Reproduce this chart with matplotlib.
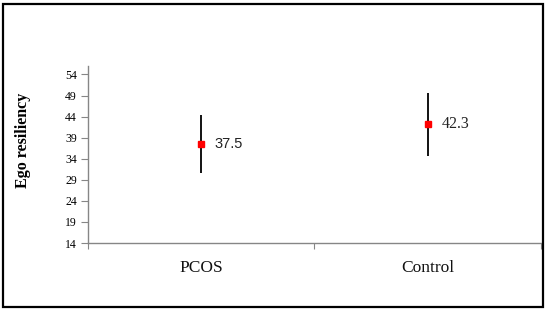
import matplotlib.pyplot as plt
from matplotlib.patches import Rectangle

# data
groups = ["PCOS", "Control"]
means = [37.5, 42.3]
err_up = [6.8, 7.3]
err_down = [6.9, 7.7]
y_ticks = [14, 19, 24, 29, 34, 39, 44, 49, 54]

serif = ["Liberation Serif", "DejaVu Serif"]

fig = plt.figure(figsize=(5.5, 3.14), dpi=100)
ax = fig.add_axes([0.16, 0.2261, 0.8236, 0.5637])

x = list(range(len(groups)))
ax.errorbar(x, means, yerr=[err_down, err_up], fmt="none", ecolor="black",
            elinewidth=1.3, capsize=0, zorder=2)
ax.plot(x, means, "s", color="#ff0000", markersize=5, zorder=3)

# value labels
ax.text(x[0] + 0.06, means[0], "%.1f" % means[0], family="Liberation Sans",
        fontsize=10.5, va="center", ha="left", color="#222222")
ax.text(x[1] + 0.06, means[1], "%.1f" % means[1], family=serif,
        fontsize=11.5, va="center", ha="left", color="#222222")

ax.set_xlim(-0.5, 1.5)
ax.set_ylim(14, 56)
ax.set_yticks(y_ticks)
ax.set_yticklabels([str(v) for v in y_ticks], family=serif, fontsize=8.5)
ax.set_xticks([-0.5, 0.5, 1.5])
ax.set_xticklabels([])
for xi, g in zip(x, groups):
    ax.text(xi, -0.14, g, transform=ax.get_xaxis_transform(), ha="center",
            va="center", family=serif, fontsize=12.5, color="#111111")

for s in ["top", "right"]:
    ax.spines[s].set_visible(False)
for s in ["left", "bottom"]:
    ax.spines[s].set_color("#868686")
    ax.spines[s].set_linewidth(1.0)
ax.tick_params(axis="y", direction="out", length=5, color="#868686", pad=3)
ax.tick_params(axis="x", direction="out", length=4, color="#868686")

fig.text(23 / 550, 1 - 140 / 314, "Ego resiliency", rotation=90, ha="center",
         va="center", family=serif, fontsize=11.5, fontweight="bold")

# outer frame
fig.patches.append(Rectangle((3 / 550, 7 / 314), 540 / 550, 303 / 314,
                             transform=fig.transFigure, fill=False,
                             edgecolor="black", linewidth=1.6))

fig.savefig("out.png", dpi=100)
